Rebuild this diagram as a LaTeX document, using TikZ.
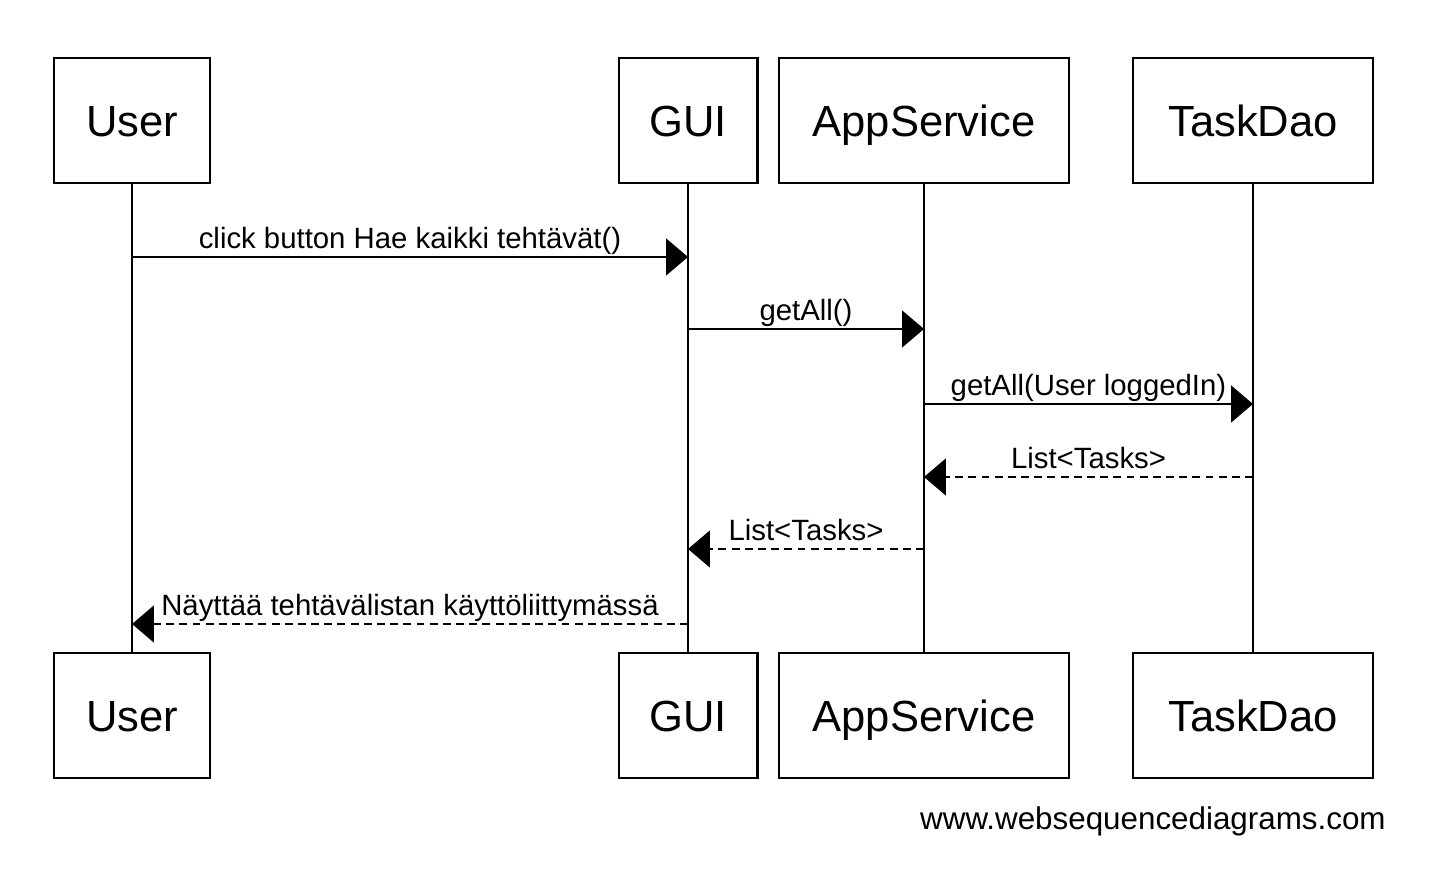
\documentclass[tikz,border=0pt]{standalone}
\usepackage{fontspec}
\setmainfont{Liberation Sans}
\usetikzlibrary{arrows.meta}

\tikzset{
  lifebox/.style={draw, line width=1.15pt, minimum height=2.5cm, inner sep=0pt,
    text height=17.8pt, text depth=0pt,
    font=\fontsize{24.8}{30}\selectfont},
  lifeline/.style={line width=1.15pt},
  msg/.style={line width=1.15pt, -{Triangle[length=12.5pt,width=21pt]}},
  reply/.style={msg, dash pattern=on 4.5pt off 3pt},
  lbl/.style={anchor=base, yshift=5pt, inner sep=0pt, font=\fontsize{16.7}{20}\selectfont}
}

\begin{document}
\begin{tikzpicture}[x=0.02cm,y=-0.02cm]
        \useasboundingbox (0,0) rectangle (1438,874);

        % top boxes
        \node[lifebox, minimum width=3.12cm] (userT) at (132,120.5) {User};
        \node[lifebox, minimum width=2.78cm] (guiT) at (688,120.5) {GUI};
        \node[lifebox, minimum width=5.8cm] (appT) at (924,120.5) {AppService};
        \node[lifebox, minimum width=4.8cm] (daoT) at (1253,120.5) {TaskDao};

        % bottom boxes
        \node[lifebox, minimum width=3.12cm] (userB) at (132,715.5) {User};
        \node[lifebox, minimum width=2.78cm] (guiB) at (688,715.5) {GUI};
        \node[lifebox, minimum width=5.8cm] (appB) at (924,715.5) {AppService};
        \node[lifebox, minimum width=4.8cm] (daoB) at (1253,715.5) {TaskDao};

        % lifelines
        \draw[lifeline] (userT.south) -- (userB.north);
        \draw[lifeline] (guiT.south) -- (guiB.north);
        \draw[lifeline] (appT.south) -- (appB.north);
        \draw[lifeline] (daoT.south) -- (daoB.north);

        % calls
        \draw[msg] (userT |- 0,257) -- (guiT |- 0,257) node[lbl, midway] {click button Hae kaikki tehtävät()};
        \draw[msg] (guiT |- 0,329) -- (appT |- 0,329) node[lbl, midway] {getAll()};
        \draw[msg] (appT |- 0,404) -- (daoT |- 0,404) node[lbl, midway] {getAll(User loggedIn)};

        % returns
        \draw[reply] (daoT |- 0,477) -- (appT |- 0,477) node[lbl, midway] {List<Tasks>};
        \draw[reply] (appT |- 0,549) -- (guiT |- 0,549) node[lbl, midway] {List<Tasks>};
        \draw[reply] (guiT |- 0,624) -- (userT |- 0,624) node[lbl, midway] {Näyttää tehtävälistan käyttöliittymässä};

        \node[anchor=base east, inner sep=0pt, font=\fontsize{17.85}{21}\selectfont] (site) at (1386,829) {www.websequencediagrams.com};
\end{tikzpicture}
\end{document}
